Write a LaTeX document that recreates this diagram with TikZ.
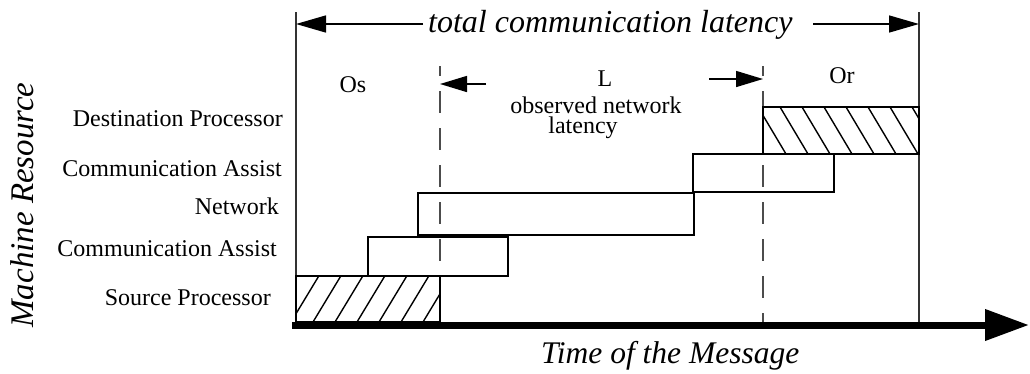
\documentclass[tikz,border=0pt]{standalone}
\usepackage{fontspec}
\setmainfont{Liberation Serif}
\usetikzlibrary{arrows.meta}
\begin{document}
\begin{tikzpicture}[x=1pt,y=-1pt,
  lbl/.style={font=\fontsize{24}{24}\selectfont, inner sep=0pt, anchor=base east},
  mid/.style={font=\fontsize{24}{24}\selectfont, inner sep=0pt, anchor=base},
  bigital/.style={font=\fontsize{32}{32}\selectfont\itshape, inner sep=0pt},
  box/.style={draw=black, line width=1.2pt, inner sep=0pt, outer sep=0pt, anchor=north west},
  srchatch/.style={path picture={\foreach \i in {-2,...,6}{\draw[line width=1.4pt] ([xshift=\i*22pt+17pt]path picture bounding box.south west) -- ++(29pt,48pt);}}},
  dsthatch/.style={path picture={\foreach \i in {-2,...,7}{\draw[line width=1.4pt] ([xshift=\i*22pt+17pt]path picture bounding box.north west) -- ++(28pt,-47pt);}}},
  dashln/.style={draw=black!70, line width=1.5pt, dash pattern=on 22pt off 15pt, dash phase=12pt},
  vline/.style={draw=black!80, line width=1.3pt},
  arr/.style={line width=1.5pt, -{Triangle[length=30pt,width=17pt]}},
  sarr/.style={line width=1.5pt, -{Triangle[length=27pt,width=16pt]}},
  axis/.style={line width=7pt, -{Triangle[length=44pt,width=30pt]}}
]
\useasboundingbox (0,0) rectangle (1030,373);

% axis and vertical limits
\coordinate (ax0) at (292,325);
\coordinate (ax1) at (1029,325);
\coordinate (vl0) at (296,12);
\coordinate (vl1) at (296,322);
\coordinate (vr0) at (919,12);
\coordinate (vr1) at (919,322);
\draw[vline] (vl0) -- (vl1);
\draw[vline] (vr0) -- (vr1);

% dashed limits
\coordinate (dl0) at (440,66);
\coordinate (dl1) at (440,322);
\coordinate (dr0) at (763,66);
\coordinate (dr1) at (763,322);
\draw[dashln] (dl0) -- (dl1);
\draw[dashln] (dr0) -- (dr1);

% resource boxes
\node[box, srchatch, minimum width=144pt, minimum height=46pt] (srcbox) at (296,276) {};
\node[box, minimum width=140pt, minimum height=39pt] (ca1box) at (368,237) {};
\node[box, minimum width=276pt, minimum height=42pt] (netbox) at (418,193) {};
\node[box, minimum width=141pt, minimum height=38pt] (ca2box) at (693,154) {};
\node[box, dsthatch, minimum width=156pt, minimum height=47pt] (dstbox) at (763,107) {};

\draw[axis] (ax0) -- (ax1);

% resource labels
\node[lbl] (dp) at (283,126) {Destination Processor};
\node[lbl] (ca2) at (282,176) {Communication Assist};
\node[lbl] (nw) at (279,214) {Network};
\node[lbl] (ca1) at (277,256) {Communication Assist};
\node[lbl] (sp) at (271,305) {Source Processor};

% phase labels
\node[mid] (os) at (353,92) {Os};
\node[mid] (lL) at (605,86) {L};
\node[font=\fontsize{24}{20}\selectfont, inner sep=0pt, align=center, anchor=center] (obs) at (596,117.4) {observed network\\latency\hspace*{26pt}};
\node[mid] (or) at (842,83) {Or};

% L arrows
\coordinate (la0) at (486,84);
\coordinate (la1) at (440,84);
\coordinate (ra0) at (709,79);
\coordinate (ra1) at (763,79);
\draw[sarr] (la0) -- (la1);
\draw[sarr] (ra0) -- (ra1);

% total latency
\node[bigital, anchor=base west] (ttl) at (428,32) {total communication latency};
\coordinate (ta0) at (423,24);
\coordinate (tb0) at (813,24);
\coordinate (ta1) at (296,24);
\coordinate (tb1) at (919,24);
\draw[arr] (ta0) -- (ta1);
\draw[arr] (tb0) -- (tb1);

% axis titles
\node[bigital, font=\fontsize{31.5}{31.5}\selectfont\itshape, anchor=base west] (time) at (541,363) {Time of the Message};
\node[bigital, font=\fontsize{33}{33}\selectfont\itshape, rotate=90, anchor=base] (mach) at (33,205) {Machine Resource};
\end{tikzpicture}
\end{document}
